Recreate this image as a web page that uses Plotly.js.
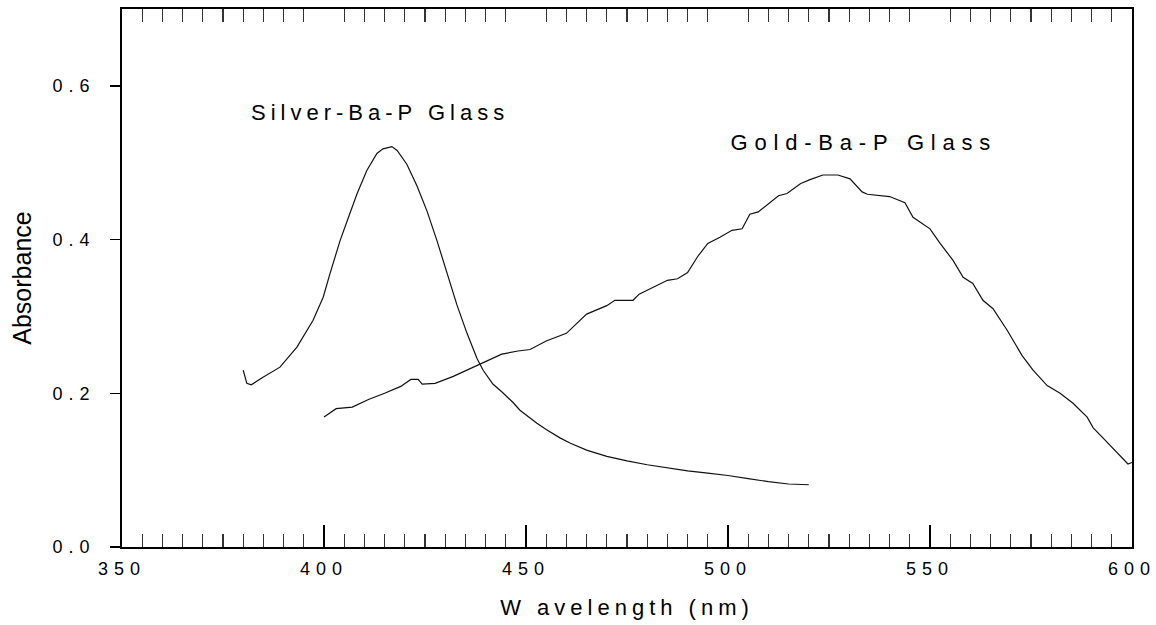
<!DOCTYPE html>
<html>
<head>
<meta charset="utf-8">
<script src="https://cdn.plot.ly/plotly-3.0.1.min.js"></script>
<style>
  html, body { margin: 0; padding: 0; background: #fff; }
  #chart { width: 1156px; height: 625px; }
  .xtick text, .ytick text { letter-spacing: 6px; }
  text.xtitle { letter-spacing: 5px; }
  text.annotation-text { letter-spacing: 5px; }
  g.annotation[data-index="1"] text.annotation-text { letter-spacing: 6.8px; }
</style>
</head>
<body>
<div id="chart"></div>
<script>
// Silver-Ba-P glass absorption spectrum
const silverWavelength = [380, 380.9, 382, 384.9, 389.1, 393.3, 397.3, 399.8, 401.5, 404, 406.4, 408.2, 410.6, 413.1, 414.6, 416, 416.8, 418.1, 420.5, 423, 425.5, 428, 430.4, 432.9, 435.4, 437.9, 439.4, 441.8, 444, 446.8, 448.5, 452.7, 455, 458.4, 461, 465, 470, 475, 480, 485, 490, 495, 500, 505, 510, 515, 520];
const silverAbsorbance = [0.230, 0.213, 0.211, 0.221, 0.234, 0.260, 0.295, 0.325, 0.356, 0.399, 0.434, 0.460, 0.490, 0.512, 0.518, 0.520, 0.521, 0.516, 0.498, 0.470, 0.437, 0.398, 0.356, 0.315, 0.278, 0.245, 0.230, 0.212, 0.202, 0.188, 0.178, 0.161, 0.153, 0.142, 0.135, 0.126, 0.118, 0.112, 0.107, 0.103, 0.099, 0.096, 0.093, 0.089, 0.085, 0.082, 0.081];

// Gold-Ba-P glass absorption spectrum
const goldWavelength = [400, 403, 407, 411, 415, 419, 421.5, 423.3, 424.3, 427.5, 432, 436, 440, 444, 448, 451, 455, 460, 465, 470, 472, 476.5, 478, 485, 487.5, 490, 492.5, 495, 498, 501, 503.5, 505.4, 507.5, 510.4, 512.5, 514.6, 518, 520.3, 523.5, 527.2, 530.2, 533.2, 534.5, 540, 543.8, 545.8, 550, 552.5, 555.7, 558.2, 560.6, 563.1, 565.6, 569.1, 572.8, 575.5, 579, 582.2, 585.4, 588.9, 590.4, 592.8, 596.3, 599, 600];
const goldAbsorbance = [0.169, 0.180, 0.182, 0.192, 0.200, 0.209, 0.218, 0.218, 0.212, 0.213, 0.222, 0.232, 0.241, 0.251, 0.255, 0.257, 0.268, 0.278, 0.303, 0.314, 0.321, 0.321, 0.329, 0.347, 0.349, 0.357, 0.378, 0.395, 0.403, 0.412, 0.414, 0.433, 0.436, 0.448, 0.457, 0.460, 0.473, 0.478, 0.484, 0.484, 0.479, 0.462, 0.459, 0.456, 0.448, 0.429, 0.414, 0.395, 0.373, 0.351, 0.343, 0.321, 0.310, 0.282, 0.249, 0.230, 0.210, 0.200, 0.187, 0.169, 0.155, 0.142, 0.123, 0.108, 0.110];

// Axis ticks and labels
const xMajorTicks = [350, 400, 450, 500, 550, 600];
const xTopMinorTicks = [355,360,365,370,375,380,385,390,395,405,410,415,420,425,430,435,440,445,455,460,465,470,475,480,485,490,495,505,510,515,520,525,530,535,540,545,555,560,565,570,575,580,585,590,595];
const yTicks = [0, 0.2, 0.4, 0.6];
const yTickLabels = ['0.0', '0.2', '0.4', '0.6'];

const curveLabels = [
  {text: 'Silver-Ba-P Glass', x: 413.9, y: 0.565},
  {text: 'Gold-Ba-P Glass', x: 533.6, y: 0.526}
];

const FONT = '"Liberation Sans", Arial, Helvetica, sans-serif';
const lineStyle = {color: '#111', width: 1.2};

const traces = [
  {x: silverWavelength, y: silverAbsorbance, type: 'scatter', mode: 'lines', line: lineStyle, name: 'Silver-Ba-P Glass', showlegend: false, hoverinfo: 'x+y'},
  {x: goldWavelength, y: goldAbsorbance, type: 'scatter', mode: 'lines', line: lineStyle, name: 'Gold-Ba-P Glass', showlegend: false, hoverinfo: 'x+y'},
  {x: [], y: [], xaxis: 'x2', yaxis: 'y', type: 'scatter', mode: 'lines', showlegend: false}
];

const layout = {
  width: 1156,
  height: 625,
  margin: {l: 122, r: 24, t: 9, b: 78},
  paper_bgcolor: '#fff',
  plot_bgcolor: '#fff',
  showlegend: false,
  font: {family: FONT, color: '#000', size: 18},
  xaxis: {
    range: [350, 600],
    tickmode: 'array',
    tickvals: xMajorTicks,
    ticktext: xMajorTicks.map(String),
    ticks: 'inside',
    ticklen: 22,
    tickwidth: 1.5,
    tickcolor: '#000',
    minor: {dtick: 5, tick0: 350, ticks: 'inside', ticklen: 13, tickwidth: 1.2, tickcolor: '#333', showgrid: false},
    showline: true,
    linecolor: '#000',
    linewidth: 1.8,
    mirror: true,
    showgrid: false,
    zeroline: false,
    tickfont: {family: FONT, size: 18, color: '#000'},
    ticklabelstandoff: 5,
    ticklabeloverflow: 'allow',
    automargin: false,
    title: {text: 'W avelength (nm)', font: {family: FONT, size: 22, color: '#000'}, standoff: 21}
  },
  xaxis2: {
    overlaying: 'x',
    matches: 'x',
    side: 'top',
    anchor: 'y',
    range: [350, 600],
    tickmode: 'array',
    tickvals: xTopMinorTicks,
    showticklabels: false,
    ticks: 'inside',
    ticklen: 13,
    tickwidth: 1.2,
    tickcolor: '#333',
    showline: false,
    showgrid: false,
    zeroline: false
  },
  yaxis: {
    range: [0, 0.7],
    tickmode: 'array',
    tickvals: yTicks,
    ticktext: yTickLabels,
    ticks: 'outside',
    ticklen: 10,
    tickwidth: 1.5,
    tickcolor: '#000',
    showline: true,
    linecolor: '#000',
    linewidth: 1.8,
    mirror: true,
    showgrid: false,
    zeroline: false,
    tickfont: {family: FONT, size: 18, color: '#000'},
    ticklabelstandoff: 11,
    ticklabeloverflow: 'allow',
    automargin: false,
    title: {text: 'Absorbance', font: {family: FONT, size: 25, color: '#000'}, standoff: 14}
  },
  annotations: curveLabels.map(l => ({
    text: l.text, x: l.x, y: l.y, xref: 'x', yref: 'y',
    showarrow: false, xanchor: 'center', yanchor: 'middle',
    font: {family: FONT, size: 22, color: '#000'}
  }))
};

Plotly.newPlot('chart', traces, layout, {displayModeBar: false, staticPlot: true});
</script>
</body>
</html>
